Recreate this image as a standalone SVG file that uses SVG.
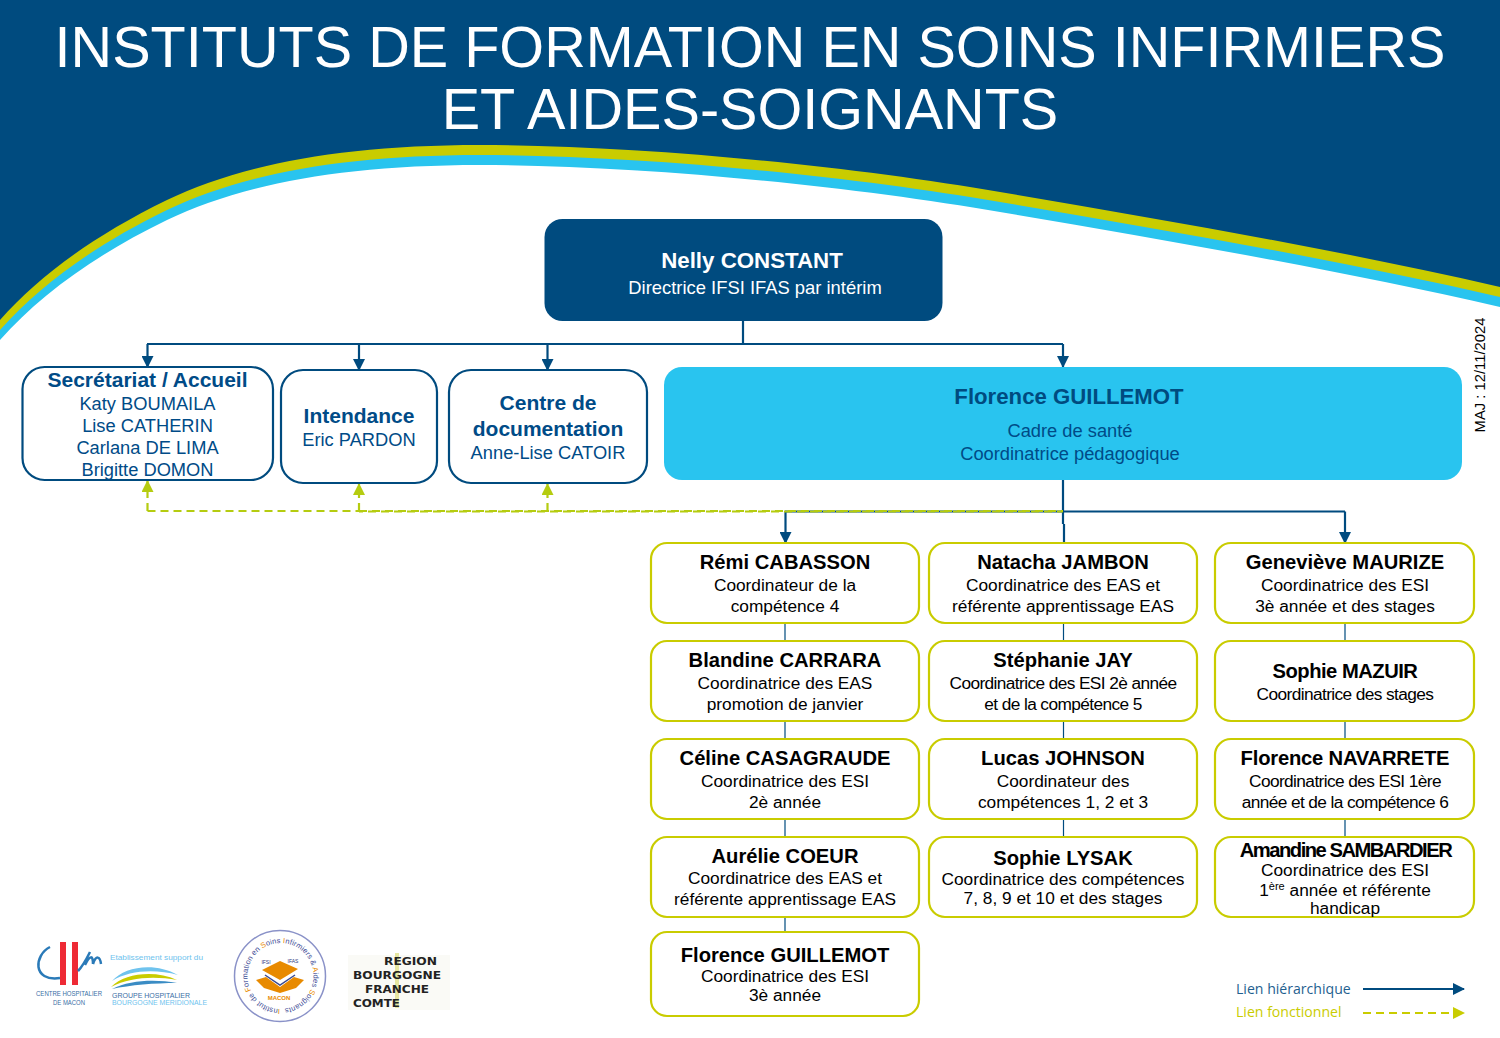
<svg xmlns="http://www.w3.org/2000/svg" width="1500" height="1038" viewBox="0 0 1500 1038">
<style>
text{font-family:"Liberation Sans",Arial,sans-serif;text-anchor:middle}
.title{font-size:57.600px;fill:#fff}
.n{font-size:20.200px;font-weight:bold;fill:#000}
.r{font-size:17.300px;fill:#000}
.t{letter-spacing:-.6px}
.bb{font-size:21px;font-weight:bold;fill:#004b87}
.br{font-size:18.300px;fill:#004b87}
.yb{fill:#fff;stroke:#c9cc00;stroke-width:2.200}
.nb{fill:#fff;stroke:#004b7f;stroke-width:2.200}
.h{fill:none;stroke:#004b7f;stroke-width:2.200}
.f{fill:none;stroke:#b5cc10;stroke-width:2.200;stroke-dasharray:8 5}
.link{fill:none;stroke:#004b7f;stroke-width:1.200}
.lg{font-family:"Open Sans","Noto Sans",sans-serif;font-size:14.100px;text-anchor:start}
.a{text-anchor:start}
.rg{font-family:"DejaVu Sans",sans-serif;font-size:10.500px;font-weight:bold;text-anchor:start;fill:#222}
</style>
<defs>
<marker id="ah" markerUnits="userSpaceOnUse" markerWidth="12" markerHeight="12" refX="11" refY="6" orient="auto"><path d="M0 0L12 6L0 12Z" fill="#004b7f"/></marker>
<marker id="af" markerUnits="userSpaceOnUse" markerWidth="12" markerHeight="12" refX="11" refY="6" orient="auto"><path d="M0 0L12 6L0 12Z" fill="#b5cc10"/></marker>
<marker id="al" markerUnits="userSpaceOnUse" markerWidth="12" markerHeight="12" refX="11" refY="6" orient="auto"><path d="M0 0L12 6L0 12Z" fill="#c9cc00"/></marker>
<path id="curve" d="M0 320C40 275 95 235 167 200C240 165 340 145 480 145C640 145 850 166 1000 192C1170 221 1340 250 1500 287L1500 0L0 0Z"/>
<path id="rim" d="M280 1009A33 33 0 1 1 281 1009" fill="none"/>
</defs>
<rect width="1500" height="1038" fill="#fff"/>
<use href="#curve" y="20" fill="#29c4ef"/>
<use href="#curve" y="10" fill="#c9cc00"/>
<use href="#curve" fill="#004b7f"/>
<text class="title" x="750" y="66.500">INSTITUTS DE FORMATION EN SOINS INFIRMIERS</text>
<text class="title" x="750" y="128.500">ET AIDES-SOIGNANTS</text>

<g id="connectors">
<path class="h" d="M743 321V344"/>
<path class="h" d="M147 344H1063"/>
<path class="h" marker-end="url(#ah)" d="M147.500 344V367"/>
<path class="h" marker-end="url(#ah)" d="M359 344V370"/>
<path class="h" marker-end="url(#ah)" d="M547.500 344V370"/>
<path class="h" marker-end="url(#ah)" d="M1063 344V367"/>
<path class="h" d="M1063 480V524M1064 524V543"/>
<path class="h" d="M785 511.500H1345"/>
<path class="h" marker-end="url(#ah)" d="M785.500 511.500V543"/>
<path class="h" marker-end="url(#ah)" d="M1345 511.500V543"/>
<path class="link" d="M785 623V641M785 721V739M785 819V837M785 917V932M1063.500 623V641M1063.500 721V739M1063.500 819V837M1345 623V641M1345 721V739M1345 819V837"/>
<path class="f" d="M147.500 511H359"/>
<path class="f" marker-end="url(#af)" d="M147.500 511V481"/>
<path class="f" marker-end="url(#af)" d="M359 511V484"/>
<path class="f" marker-end="url(#af)" d="M547.500 511V484"/>
<path class="f" d="M359 511H1063"/>
<path class="f" d="M359 511.500H1063" stroke-dashoffset="4"/>
</g>

<g id="n-directrice"><rect x="544.500" y="219" width="398" height="102" rx="18" fill="#004b7f"/><text x="752" y="268" font-size="22.300" font-weight="bold" fill="#fff">Nelly CONSTANT</text><text x="755" y="294" font-size="18.400" fill="#fff">Directrice IFSI IFAS par intérim</text></g>
<g id="n-secretariat"><rect class="nb" x="22.500" y="367" width="250.500" height="113" rx="22"/><text class="bb" x="147.500" y="387">Secrétariat / Accueil</text><text class="br" x="147.500" y="410">Katy BOUMAILA</text><text class="br" x="147.500" y="432">Lise CATHERIN</text><text class="br" x="147.500" y="454">Carlana DE LIMA</text><text class="br" x="147.500" y="476">Brigitte DOMON</text></g>
<g id="n-intendance"><rect class="nb" x="281" y="370" width="156" height="113" rx="22"/><text class="bb" x="359" y="423">Intendance</text><text class="br" x="359" y="445.500">Eric PARDON</text></g>
<g id="n-documentation"><rect class="nb" x="449" y="370" width="198" height="113" rx="22"/><text class="bb" x="548" y="410">Centre de</text><text class="bb" x="548" y="435.500">documentation</text><text class="br" x="548" y="458.500">Anne-Lise CATOIR</text></g>
<g id="n-guillemot-cadre"><rect x="664" y="367" width="798" height="113" rx="18" fill="#29c4ef"/><text x="1069" y="404" font-size="22.200" font-weight="bold" fill="#004b7f">Florence GUILLEMOT</text><text class="br" x="1070" y="437">Cadre de santé</text><text class="br" x="1070" y="460">Coordinatrice pédagogique</text></g>

<g id="n-cabasson"><rect class="yb" x="651" y="543" width="268" height="80" rx="16"/><text class="n" x="785" y="569">Rémi CABASSON</text><text class="r" x="785" y="591">Coordinateur de la</text><text class="r" x="785" y="612">compétence 4</text></g>
<g id="n-carrara"><rect class="yb" x="651" y="641" width="268" height="80" rx="16"/><text class="n" x="785" y="667">Blandine CARRARA</text><text class="r" x="785" y="689">Coordinatrice des EAS</text><text class="r" x="785" y="710">promotion de janvier</text></g>
<g id="n-casagraude"><rect class="yb" x="651" y="739" width="268" height="80" rx="16"/><text class="n" x="785" y="765">Céline CASAGRAUDE</text><text class="r" x="785" y="787">Coordinatrice des ESI</text><text class="r" x="785" y="808">2è année</text></g>
<g id="n-coeur"><rect class="yb" x="651" y="837" width="268" height="80" rx="16"/><text class="n" x="785" y="863">Aurélie COEUR</text><text class="r" x="785" y="884">Coordinatrice des EAS et</text><text class="r" x="785" y="905">référente apprentissage EAS</text></g>
<g id="n-guillemot"><rect class="yb" x="651" y="932" width="268" height="84" rx="16"/><text class="n" x="785" y="962">Florence GUILLEMOT</text><text class="r" x="785" y="982">Coordinatrice des ESI</text><text class="r" x="785" y="1001">3è année</text></g>

<g id="n-jambon"><rect class="yb" x="929" y="543" width="268" height="80" rx="16"/><text class="n" x="1063" y="569">Natacha JAMBON</text><text class="r" x="1063" y="591">Coordinatrice des EAS et</text><text class="r" x="1063" y="612">référente apprentissage EAS</text></g>
<g id="n-jay"><rect class="yb" x="929" y="641" width="268" height="80" rx="16"/><text class="n" x="1063" y="667">Stéphanie JAY</text><text class="r t" x="1063" y="689">Coordinatrice des ESI 2è année</text><text class="r t" x="1063" y="710">et de la compétence 5</text></g>
<g id="n-johnson"><rect class="yb" x="929" y="739" width="268" height="80" rx="16"/><text class="n" x="1063" y="765">Lucas JOHNSON</text><text class="r" x="1063" y="787">Coordinateur des</text><text class="r" x="1063" y="808">compétences 1, 2 et 3</text></g>
<g id="n-lysak"><rect class="yb" x="929" y="837" width="268" height="80" rx="16"/><text class="n" x="1063" y="865">Sophie LYSAK</text><text class="r" x="1063" y="885">Coordinatrice des compétences</text><text class="r" x="1063" y="904">7, 8, 9 et 10 et des stages</text></g>

<g id="n-maurize"><rect class="yb" x="1215" y="543" width="259" height="80" rx="16"/><text class="n" x="1345" y="569">Geneviève MAURIZE</text><text class="r" x="1345" y="591">Coordinatrice des ESI</text><text class="r" x="1345" y="612">3è année et des stages</text></g>
<g id="n-mazuir"><rect class="yb" x="1215" y="641" width="259" height="80" rx="16"/><text class="n" x="1345" y="678" letter-spacing="-.5">Sophie MAZUIR</text><text class="r t" x="1345" y="700">Coordinatrice des stages</text></g>
<g id="n-navarrete"><rect class="yb" x="1215" y="739" width="259" height="80" rx="16"/><text class="n" x="1345" y="765" letter-spacing="-.2">Florence NAVARRETE</text><text class="r t" x="1345" y="787">Coordinatrice des ESI 1ère</text><text class="r t" x="1345" y="808">année et de la compétence 6</text></g>
<g id="n-sambardier"><rect class="yb" x="1215" y="837" width="259" height="80" rx="16"/><text class="n" x="1345.500" y="856.500" letter-spacing="-1.500">Amandine SAMBARDIER</text><text class="r" x="1345" y="876">Coordinatrice des ESI</text><text class="r" x="1345" y="896">1<tspan font-size="11" dy="-6">ère</tspan><tspan dy="6"> année et référente</tspan></text><text class="r" x="1345" y="914">handicap</text></g>

<text transform="translate(1485 375) rotate(-90)" font-size="14.800" fill="#000">MAJ : 12/11/2024</text>

<g id="legend">
<text class="lg" x="1236" y="994" fill="#1f5f8f">Lien hiérarchique</text>
<text class="lg" x="1236" y="1017" fill="#c9cc00">Lien fonctionnel</text>
<path class="h" marker-end="url(#ah)" d="M1363 989H1464"/>
<path d="M1363 1013H1464" fill="none" stroke="#c9cc00" stroke-width="2.200" stroke-dasharray="8 5" marker-end="url(#al)"/>
</g>

<g id="logo-ch">
<rect x="60" y="942" width="6" height="43" fill="#ee2a35"/><rect x="72" y="942" width="6" height="43" fill="#ee2a35"/>
<path d="M50 947C34 955 32 982 60 978" fill="none" stroke="#2a7ab8" stroke-width="2.500"/>
<path d="M78 971C83 966 87 958 90 952M85 965C90 955 93 955 93 964M93 964C96 955 100 956 101 964" fill="none" stroke="#2a7ab8" stroke-width="2.500"/>
<text x="36" y="996" font-size="7" fill="#3a6ea5" textLength="66" lengthAdjust="spacingAndGlyphs" class="a">CENTRE HOSPITALIER</text>
<text x="53" y="1005" font-size="7" fill="#3a6ea5" textLength="32" lengthAdjust="spacingAndGlyphs" class="a">DE MACON</text>
<text x="110" y="960" font-size="7.500" fill="#6fc3ee" textLength="93" lengthAdjust="spacingAndGlyphs" class="a">Etablissement support du</text>
<path d="M112 981C125 966 155 962 178 975C155 969 130 970 112 981Z" fill="#6fc3ee"/>
<path d="M111 987C125 973 155 970 177 980C155 976 130 977 111 987Z" fill="#c9cc00"/>
<path d="M112 989C130 980 155 979 177 983C155 983 130 985 112 989Z" fill="#3a8cc4"/>
<text x="112" y="998" font-size="6.500" fill="#3a6ea5" textLength="78" lengthAdjust="spacingAndGlyphs" class="a">GROUPE HOSPITALIER</text>
<text x="112" y="1005" font-size="6.500" fill="#6fc3ee" textLength="95" lengthAdjust="spacingAndGlyphs" class="a">BOURGOGNE MERIDIONALE</text>
</g>
<g id="logo-ifsi">
<circle cx="280" cy="976" r="45.500" fill="#fff" stroke="#8a92c8" stroke-width="1.500"/>
<text font-size="7.500" fill="#3d4c96" style="text-anchor:start"><textPath href="#rim" textLength="202"><tspan fill="#e88a00">I</tspan>nstitut de <tspan fill="#e88a00">F</tspan>ormation en <tspan fill="#e88a00">S</tspan>oins <tspan fill="#e88a00">I</tspan>nfirmiers &amp; <tspan fill="#e88a00">A</tspan>ides <tspan fill="#e88a00">S</tspan>oignants</textPath></text>
<path d="M262 970L280 961L298 969L280 980Z" fill="#e88a00"/>
<path d="M265 975L280 985L295 975" fill="none" stroke="#3a4a90" stroke-width="1.500"/>
<path d="M256 980L266 977L280 987L294 977L304 980L296 988L280 993L264 988Z" fill="#e88a00"/>
<text x="266" y="964" font-size="5" fill="#2a3a80">IFSI</text><text x="293" y="963" font-size="5" fill="#2a3a80">IFAS</text>
<text x="279" y="1000" font-size="6" fill="#e88a00" font-weight="bold">MACON</text>
</g>
<g id="logo-region">
<rect x="348" y="955" width="102" height="55" fill="#fafaf6"/>
<path d="M397 953V1008" stroke="#e6e6a0" stroke-width="4" fill="none"/>
<text class="rg" x="384" y="965" textLength="53" lengthAdjust="spacingAndGlyphs">REGION</text>
<text class="rg" x="353" y="979" textLength="88" lengthAdjust="spacingAndGlyphs">BOURGOGNE</text>
<text class="rg" x="365" y="993" textLength="64" lengthAdjust="spacingAndGlyphs">FRANCHE</text>
<text class="rg" x="353" y="1007" textLength="47" lengthAdjust="spacingAndGlyphs">COMTE</text>
</g>
</svg>
